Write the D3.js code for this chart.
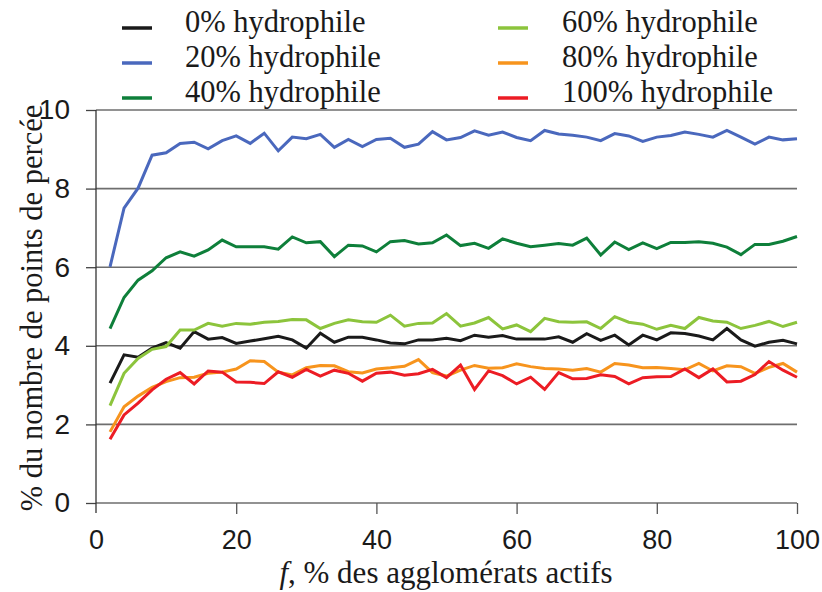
<!DOCTYPE html>
<html>
<head>
<meta charset="utf-8">
<script src="https://cdn.jsdelivr.net/npm/d3@7"></script>
<style>
  html, body { margin: 0; padding: 0; background: #fff; }
  svg { display: block; }
</style>
</head>
<body>
<svg id="chart" width="822" height="592"></svg>
<script>
// ---- data ----
const xValues = [2,4,6,8,10,12,14,16,18,20,22,24,26,28,30,32,34,36,38,40,42,44,46,48,50,
                 52,54,56,58,60,62,64,66,68,70,72,74,76,78,80,82,84,86,88,90,92,94,96,98,100];
const seriesNames = ["0% hydrophile","20% hydrophile","40% hydrophile","60% hydrophile","80% hydrophile","100% hydrophile"];
const seriesColors = ["#1a1a1a","#4a68bd","#0e7f3a","#8cc43c","#f7941d","#ec1c24"];
const hyd0 = [3.05,3.77,3.71,3.94,4.08,3.94,4.36,4.17,4.21,4.06,4.12,4.18,4.24,4.15,3.94,4.32,
              4.09,4.22,4.22,4.15,4.07,4.05,4.15,4.15,4.19,4.13,4.27,4.22,4.26,4.17,4.17,4.17,4.23,
              4.09,4.31,4.14,4.27,4.02,4.27,4.15,4.33,4.31,4.25,4.15,4.44,4.15,3.99,4.09,4.14,4.05];
const hyd20 = [6.01,7.50,8.01,8.85,8.91,9.15,9.18,9.01,9.22,9.34,9.15,9.41,8.96,9.31,9.27,9.38,
               9.05,9.25,9.07,9.25,9.28,9.05,9.13,9.45,9.24,9.30,9.47,9.36,9.44,9.30,9.22,9.48,9.39,
               9.36,9.31,9.22,9.40,9.34,9.20,9.31,9.35,9.44,9.38,9.31,9.48,9.31,9.13,9.31,9.24,9.27];
const hyd40 = [4.44,5.23,5.67,5.91,6.24,6.39,6.28,6.44,6.69,6.52,6.52,6.52,6.46,6.77,6.62,6.65,
               6.27,6.56,6.54,6.39,6.65,6.68,6.59,6.62,6.82,6.55,6.61,6.48,6.72,6.61,6.52,6.56,6.60,
               6.56,6.74,6.31,6.64,6.45,6.62,6.47,6.63,6.63,6.65,6.61,6.51,6.32,6.58,6.58,6.66,6.78];
const hyd60 = [2.48,3.30,3.68,3.91,3.98,4.40,4.40,4.57,4.50,4.57,4.55,4.60,4.62,4.67,4.66,4.44,
               4.57,4.66,4.61,4.60,4.78,4.50,4.57,4.58,4.82,4.50,4.58,4.72,4.43,4.53,4.36,4.70,4.61,
               4.60,4.61,4.44,4.74,4.60,4.55,4.42,4.52,4.44,4.72,4.63,4.60,4.44,4.52,4.62,4.49,4.60];
const hyd80 = [1.81,2.45,2.72,2.94,3.09,3.19,3.20,3.30,3.33,3.41,3.62,3.60,3.33,3.26,3.44,3.50,
               3.49,3.34,3.31,3.41,3.44,3.48,3.65,3.32,3.23,3.38,3.50,3.43,3.44,3.54,3.47,3.42,3.41,
               3.38,3.42,3.33,3.55,3.51,3.44,3.45,3.42,3.39,3.55,3.36,3.49,3.47,3.30,3.45,3.55,3.33];
const hyd100 = [1.62,2.24,2.54,2.88,3.15,3.32,3.03,3.36,3.33,3.08,3.07,3.04,3.34,3.20,3.40,3.23,
                3.38,3.30,3.10,3.30,3.33,3.25,3.29,3.40,3.19,3.51,2.89,3.36,3.24,3.03,3.20,2.89,3.32,
                3.16,3.17,3.26,3.22,3.03,3.19,3.21,3.22,3.41,3.19,3.41,3.08,3.10,3.27,3.60,3.38,3.20];
const xTicks = [0,20,40,60,80,100];
const yTicks = [0,2,4,6,8,10];

const seriesValues = [hyd0, hyd20, hyd40, hyd60, hyd80, hyd100];

// ---- layout ----
const svg = d3.select("#chart");
const plotL = 96, plotR = 797, plotT = 110, plotB = 503;
const x = d3.scaleLinear().domain([0,100]).range([plotL, plotR]);
const y = d3.scaleLinear().domain([0,10]).range([plotB, plotT]);
const SANS = '"Liberation Sans"';
const SERIF = '"Liberation Serif"';

// gridlines
svg.append("g").selectAll("line").data(yTicks).join("line")
  .attr("x1", plotL).attr("x2", plotR)
  .attr("y1", d => y(d)).attr("y2", d => y(d))
  .attr("stroke", "#6e6e6e").attr("stroke-width", 1.6);

// y axis
const yAxis = svg.append("g").attr("transform", `translate(${plotL},0)`)
  .call(d3.axisLeft(y).tickValues(yTicks).tickSize(10).tickSizeOuter(0).tickPadding(16));
yAxis.select(".domain").remove();
yAxis.selectAll(".tick line").attr("stroke", "#444").attr("stroke-width", 1.3);
yAxis.selectAll("text").style("font-family", SANS).style("font-size", "28px").attr("fill", "#1a1a1a");
svg.append("line").attr("x1", plotL).attr("x2", plotL).attr("y1", plotT).attr("y2", plotB + 10)
  .attr("stroke", "#333").attr("stroke-width", 1.3);

// x axis
const xAxis = svg.append("g").attr("transform", `translate(0,${plotB})`)
  .call(d3.axisBottom(x).tickValues(xTicks).tickSize(11).tickSizeOuter(0).tickPadding(16));
xAxis.select(".domain").remove();
xAxis.selectAll(".tick line").attr("stroke", "#555").attr("stroke-width", 1.3)
  .filter(d => d === 0).remove();
xAxis.selectAll("text").style("font-family", SANS).style("font-size", "27px").attr("fill", "#1a1a1a");

// lines
const line = d3.line().x((d, i) => x(xValues[i])).y(d => y(d));
svg.append("g").selectAll("path").data(seriesValues).join("path")
  .attr("d", d => line(d))
  .attr("fill", "none")
  .attr("stroke", (d, i) => seriesColors[i])
  .attr("stroke-width", 3)
  .attr("stroke-linejoin", "miter");

// legend
const legendCols = [{lx: 122, tx: 185}, {lx: 498, tx: 562}];
const legendRows = [28, 63, 98];
seriesNames.forEach((name, i) => {
  const col = legendCols[Math.floor(i / 3)];
  const ry = legendRows[i % 3];
  svg.append("line").attr("x1", col.lx).attr("x2", col.lx + 30)
    .attr("y1", ry).attr("y2", ry)
    .attr("stroke", seriesColors[i]).attr("stroke-width", 3.5);
  svg.append("text").attr("x", col.tx).attr("y", ry + 4)
    .style("font-family", SERIF).style("font-size", "30.5px").attr("fill", "#1a1a1a")
    .text(name);
});

// axis titles
const xt = svg.append("text").attr("x", 446).attr("y", 583)
  .attr("text-anchor", "middle").style("font-family", SERIF).style("font-size", "31px").attr("fill", "#1a1a1a");
xt.append("tspan").style("font-style", "italic").text("f");
xt.append("tspan").text(", % des agglomérats actifs");

svg.append("text").attr("transform", "translate(42,308) rotate(-90)")
  .attr("text-anchor", "middle").style("font-family", SERIF).style("font-size", "30.5px").attr("fill", "#1a1a1a")
  .text("% du nombre de points de percée");
</script>
</body>
</html>
